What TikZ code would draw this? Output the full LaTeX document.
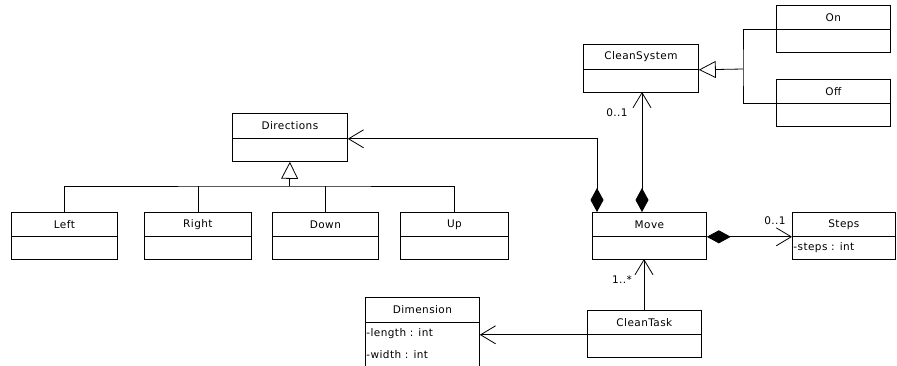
\documentclass[tikz,border=0pt]{standalone}
\usepackage{fontspec}
\setmainfont{DejaVu Sans}[LetterSpace=4]
\usetikzlibrary{arrows.meta}
\begin{document}
\begin{tikzpicture}[x=1pt,y=-1pt,line width=0.8pt,
  every node/.style={font=\fontsize{10.5}{12}\selectfont, inner sep=0pt},
  hdr/.style={draw, anchor=north west, minimum height=#1},
  hdr/.default=24pt,
  bodybox/.style={draw, anchor=north west, minimum height=#1},
  bodybox/.default=23pt,
  attr/.style={anchor=west},
  mult/.style={anchor=base},
  barb/.style={-{Straight Barb[length=15pt,width=18pt]}},
  comp/.style={{Diamond[length=24pt,width=13pt]}-{Straight Barb[length=15pt,width=18pt]}},
  gen/.style={-{Triangle[open,length=17pt,width=17pt]}}]
\clip (0,0) rectangle (897,365);
\fill[white] (0,0) rectangle (897,365);

% state classes
\node[hdr, minimum width=114pt] (on) at (776,5) {On};
\node[bodybox, minimum width=114pt] (on-b) at (776,29) {};
\node[hdr, minimum width=114pt] (off) at (776,79) {Off};
\node[bodybox, minimum width=114pt] (off-b) at (776,103) {};

% CleanSystem
\node[hdr, minimum width=115pt, minimum height=25pt] (cs) at (583,44) {CleanSystem};
\node[bodybox, minimum width=115pt] (cs-b) at (583,69) {};

% Directions and its subclasses
\node[hdr, minimum width=115pt, minimum height=25pt] (dirs) at (232,113) {Directions};
\node[bodybox, minimum width=115pt] (dirs-b) at (232,138) {};

\node[hdr, minimum width=106pt] (left) at (11,212) {Left};
\node[bodybox, minimum width=106pt] (left-b) at (11,236) {};
\node[hdr, minimum width=107pt] (right) at (144,212) {Right};
\node[bodybox, minimum width=107pt] (right-b) at (144,236) {};
\node[hdr, minimum width=106pt] (down) at (272,212) {Down};
\node[bodybox, minimum width=106pt] (down-b) at (272,236) {};
\node[hdr, minimum width=108pt] (up) at (400,212) {Up};
\node[bodybox, minimum width=108pt] (up-b) at (400,236) {};

% Move and Steps
\node[hdr, minimum width=114pt] (move) at (592,212) {Move};
\node[bodybox, minimum width=114pt] (move-b) at (592,236) {};
\node[hdr, minimum width=103pt] (steps) at (792,212) {Steps};
\node[bodybox, minimum width=103pt] (steps-b) at (792,236) {};
\node[attr] (steps-a) at (793,248) {-steps : int};

% Dimension and CleanTask
\node[hdr, minimum width=114pt, minimum height=25pt] (dim) at (365,297) {Dimension};
\node[bodybox, minimum width=114pt, minimum height=60pt] (dim-b) at (365,322) {};
\node[attr] (dim-a1) at (366,334) {-length : int};
\node[attr] (dim-a2) at (366,355) {-width : int};

\node[hdr, minimum width=114pt] (ct) at (587,310) {CleanTask};
\node[bodybox, minimum width=114pt] (ct-b) at (587,334) {};

% generalization: On, Off -> CleanSystem
\coordinate (sjoin) at (743,69);
\draw (on.south west) -| (sjoin) |- (off.south west);
\draw[gen] (sjoin) -- (cs.south east);

% generalization: Left, Right, Down, Up -> Directions
\coordinate (dbus) at (289.5,186);
\draw (left.north) |- (dbus) -| (up.north);
\draw (right.north) -- (right.north |- dbus);
\draw (down.north) -- (down.north |- dbus);
\draw[gen] (dbus) -- (dirs-b.south);

% Move compositions
\draw[comp] ([xshift=5pt]move.north west) |- (dirs.south east);
\coordinate (mtop) at (642,212);
\coordinate (cstop) at (642,92);
\draw[comp] (mtop) -- (cstop);
\node[mult] (m-cs) at (617,116) {0..1};
\draw[comp] (move.south east) -- (steps.south west);
\node[mult] (m-st) at (775,224) {0..1};

% CleanTask associations
\coordinate (ctop) at (644,310);
\coordinate (mbot) at (644,259);
\draw[barb] (ctop) -- (mbot);
\node[mult] (m-ct) at (622,283) {1..*};
\draw[barb] (ct.south west) -- (ct.south west -| dim-b.east);
\end{tikzpicture}
\end{document}
